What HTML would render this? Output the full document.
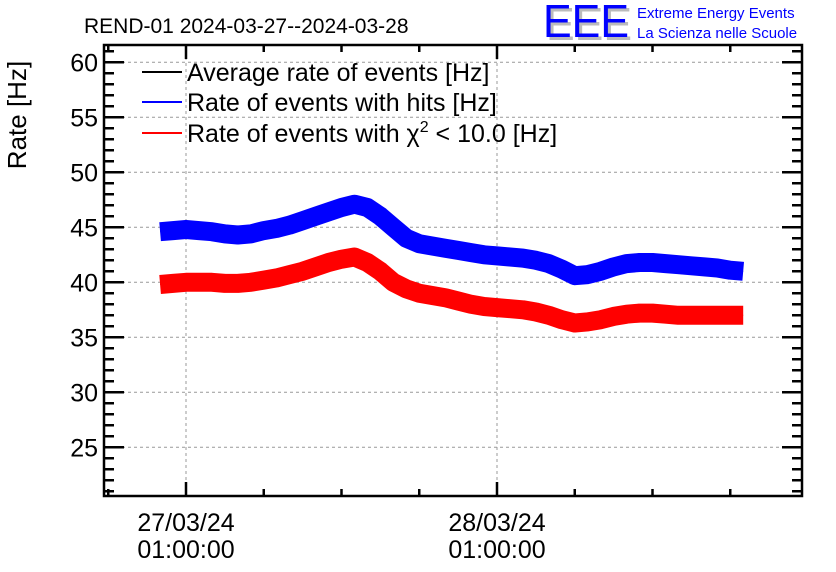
<!DOCTYPE html>
<html><head><meta charset="utf-8"><style>
body{margin:0;background:#fff;}
svg{display:block;font-family:"Liberation Sans",sans-serif;}
</style></head><body>
<svg id="c" width="836" height="572">
<text x="84" y="33" font-size="21">REND-01 2024-03-27--2024-03-28</text>
<g>
<text x="546" y="40" font-size="46" fill="#bbb" textLength="86" lengthAdjust="spacingAndGlyphs">EEE</text>
<text x="543" y="37" font-size="46" fill="#0000ff" textLength="86" lengthAdjust="spacingAndGlyphs">EEE</text>
<text x="637" y="18" font-size="15" fill="#0000ff">Extreme Energy Events</text>
<text x="637" y="38" font-size="15" fill="#0000ff">La Scienza nelle Scuole</text>
</g>
<text transform="translate(26,115) rotate(-90)" text-anchor="middle" font-size="26">Rate [Hz]</text>
<g id="grid"></g><g id="series"></g><g id="axes"></g>
<g font-size="25">
<line x1="142" y1="72" x2="182" y2="72" stroke="#000" stroke-width="2"/><text x="187" y="81">Average rate of events [Hz]</text>
<line x1="142" y1="102" x2="182" y2="102" stroke="#0000ff" stroke-width="2"/><text x="187" y="111">Rate of events with hits [Hz]</text>
<line x1="142" y1="133" x2="182" y2="133" stroke="#ff0000" stroke-width="2"/><text x="187" y="142">Rate of events with χ<tspan font-size="16" dy="-10">2</tspan><tspan dy="10"> &lt; 10.0 [Hz]</tspan></text>
</g>
</svg>
<script>
const hours=[-2,-1,0,1,2,3,4,5,6,7,8,9,10,11,12,13,14,15,16,17,18,19,20,21,22,23,24,25,26,27,28,29,30,31,32,33,34,35,36,37,38,39,40,41,42,43];
const blueRate=[44.6,44.7,44.8,44.7,44.6,44.4,44.3,44.4,44.7,44.9,45.2,45.6,46.0,46.4,46.8,47.1,46.8,46.0,45.0,44.0,43.5,43.3,43.1,42.9,42.7,42.5,42.4,42.3,42.2,42.0,41.7,41.2,40.6,40.7,41.0,41.4,41.7,41.8,41.8,41.7,41.6,41.5,41.4,41.3,41.1,41.0];
const redRate=[39.8,39.9,40.0,40.0,40.0,39.9,39.9,40.0,40.2,40.4,40.7,41.0,41.4,41.8,42.1,42.3,41.8,41.0,40.0,39.4,39.0,38.8,38.6,38.3,38.0,37.8,37.7,37.6,37.5,37.3,37.0,36.6,36.3,36.4,36.6,36.9,37.1,37.2,37.2,37.1,37.0,37.0,37.0,37.0,37.0,37.0];
const yTicks=[25,30,35,40,45,50,55,60];
const xTickHours=[0,24];
const xTickLabels=[["27/03/24","01:00:00"],["28/03/24","01:00:00"]];
const L=104,R=802,T=45,B=496;
const X=h=>186+h*311/24;
const Y=v=>62.3+(60-v)*11;
const NS="http://www.w3.org/2000/svg";
function mk(tag,attrs,parent){const e=document.createElementNS(NS,tag);for(const k in attrs)e.setAttribute(k,attrs[k]);parent.appendChild(e);return e;}
const grid=document.getElementById('grid'),series=document.getElementById('series'),axes=document.getElementById('axes');
yTicks.forEach(v=>{const l=mk('line',{x1:L,x2:R,y1:Y(v),y2:Y(v),stroke:'#999','stroke-dasharray':'3,3'},grid);


const t=mk('text',{x:98,y:Y(v)+9,'text-anchor':'end','font-size':25},axes);t.textContent=v;

});
xTickHours.forEach((h,i)=>{const l=mk('line',{x1:X(h),x2:X(h),y1:T,y2:B,stroke:'#999','stroke-dasharray':'3,3'},grid);


xTickLabels[i].forEach((s,j)=>{const t=mk('text',{x:X(h),y:531+j*27,'text-anchor':'middle','font-size':25},axes);t.textContent=s;

});});
function band(vals,color,name){const pts=hours.map((h,i)=>X(h).toFixed(1)+','+Y(vals[i]).toFixed(1)).join(' ');
const b=mk('polyline',{points:pts,fill:'none',stroke:color,'stroke-width':19,'stroke-linejoin':'round'},series);


const p=mk('polyline',{points:pts,fill:'none',stroke:color,'stroke-width':1},series);

}
band(blueRate,'#0000ff','hits-rate');
band(redRate,'#ff0000','chi2-rate');
const f=mk('rect',{x:L,y:T,width:R-L,height:B-T,fill:'none',stroke:'#000','stroke-width':2.5},axes);


let d='';
for(let v=21;v<=61;v++){const y=Y(v);const len=(v%5===0)?20:10;d+=`M${L},${y}h${len}M${R},${y}h${-len}`;}
for(let h=-6;h<=48;h+=6){const x=X(h);if(x<L||x>R)continue;const len=(h%24===0)?14:7;d+=`M${x},${B}v${-len}M${x},${T}v${len}`;}
const tk=mk('path',{d:d,stroke:'#000','stroke-width':2.5,fill:'none'},axes);


</script>
</body></html>
